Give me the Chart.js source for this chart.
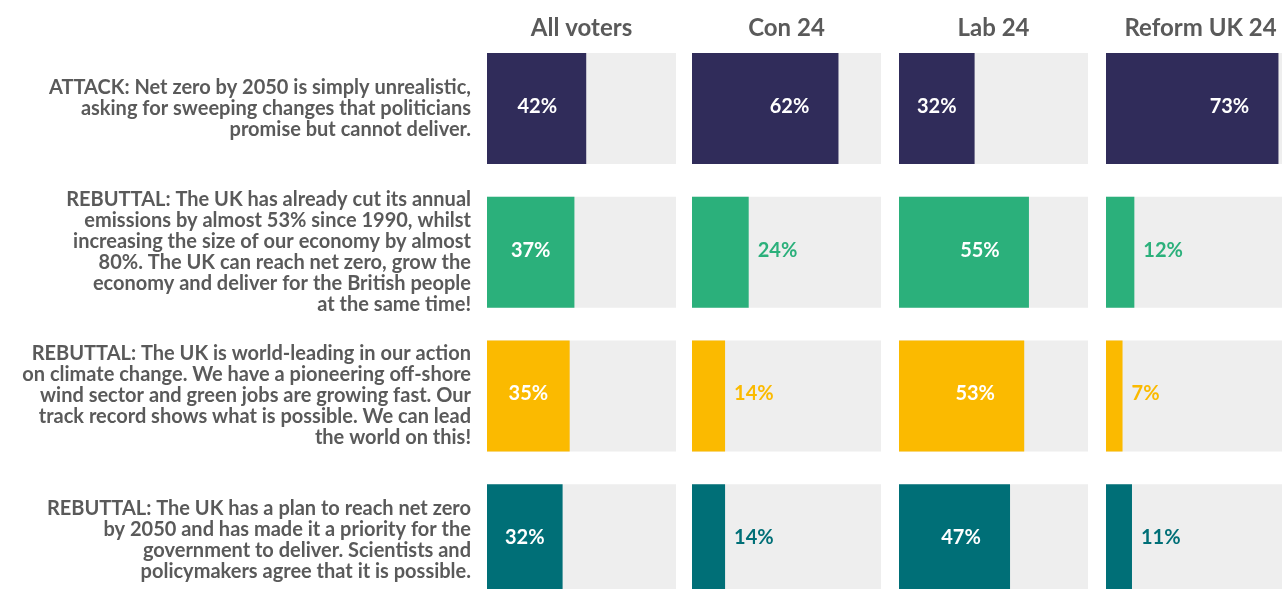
<!DOCTYPE html>
<html>
<head>
<meta charset="utf-8">
<script src="https://cdn.jsdelivr.net/npm/chart.js@4.4.1/dist/chart.umd.min.js"></script>
<style>
  html, body { margin: 0; padding: 0; background: #fff; overflow: hidden; width: 1282px; height: 589px; }
  .panel { position: absolute; top: 0; }
</style>
</head>
<body>
<canvas id="c0" class="panel" style="left:0px" width="676" height="620"></canvas>
<canvas id="c1" class="panel" style="left:692px" width="189" height="620"></canvas>
<canvas id="c2" class="panel" style="left:899px" width="189" height="620"></canvas>
<canvas id="c3" class="panel" style="left:1106px" width="189" height="620"></canvas>
<script>
// statements tested, one row each
const statements = [
  ['ATTACK: Net zero by 2050 is simply unrealistic,', 'asking for sweeping changes that politicians', 'promise but cannot deliver.'],
  ['REBUTTAL: The UK has already cut its annual', 'emissions by almost 53% since 1990, whilst', 'increasing the size of our economy by almost', '80%. The UK can reach net zero, grow the', 'economy and deliver for the British people', 'at the same time!'],
  ['REBUTTAL: The UK is world-leading in our action', 'on climate change. We have a pioneering off-shore', 'wind sector and green jobs are growing fast. Our', 'track record shows what is possible. We can lead', 'the world on this!'],
  ['REBUTTAL: The UK has a plan to reach net zero', 'by 2050 and has made it a priority for the', 'government to deliver. Scientists and', 'policymakers agree that it is possible.']
];

const groups = ['All voters', 'Con 24', 'Lab 24', 'Reform UK 24'];

// % agreeing, per group, in statement order
const allVoters = [42, 37, 35, 32];
const con24 = [62, 24, 14, 14];
const lab24 = [32, 55, 53, 47];
const reform24 = [73, 12, 7, 11];

const scaleMax = 80;

const rowColors = ['#302c5a', '#2bb07b', '#fbba00', '#006f77'];
const trackColor = '#eeeeee';
const textGrey = '#5a5a5a';
const FONT = 'Lato, "Open Sans", sans-serif';

// writes the % on each bar: inside (white) when it fits, otherwise just after the bar
const valueLabels = {
  id: 'valueLabels',
  afterDatasetsDraw(chart) {
    const ctx = chart.ctx;
    const vals = chart.data.datasets[0].data;
    const meta = chart.getDatasetMeta(0);
    ctx.save();
    ctx.font = 'bold 20px ' + FONT;
    ctx.textBaseline = 'middle';
    meta.data.forEach((bar, i) => {
      const start = bar.base, end = bar.x;
      const w = end - start;
      const txt = vals[i] + '%';
      if (w > 60) {
        ctx.fillStyle = '#ffffff';
        ctx.textAlign = 'center';
        ctx.fillText(txt, end - Math.min(w / 2, 49), bar.y - 2);
      } else {
        ctx.fillStyle = rowColors[i];
        ctx.textAlign = 'left';
        ctx.fillText(txt, end + 9, bar.y - 2);
      }
    });
    ctx.restore();
  }
};

function makePanel(id, title, values, withLabels) {
  new Chart(document.getElementById(id), {
    type: 'bar',
    data: {
      labels: statements,
      datasets: [
        { data: values, backgroundColor: rowColors, grouped: false, order: 0 },
        { data: values.map(() => scaleMax), backgroundColor: trackColor, grouped: false, order: 1 }
      ]
    },
    options: {
      indexAxis: 'y',
      responsive: false,
      animation: false,
      layout: { padding: { top: 0, bottom: 8.4, left: 0, right: 0 } },
      datasets: { bar: { categoryPercentage: 1, barPercentage: 0.7726 } },
      plugins: { legend: { display: false }, tooltip: { enabled: false } },
      scales: {
        x: {
          position: 'top',
          min: 0,
          max: scaleMax,
          grid: { display: false, drawTicks: false },
          border: { display: false },
          ticks: { display: false },
          title: {
            display: true,
            text: title,
            color: textGrey,
            font: { family: FONT, size: 24, weight: 'bold' },
            padding: { top: 14, bottom: 0 }
          },
          afterFit(scale) { scale.height = 36.67; }
        },
        y: {
          display: withLabels,
          grid: { display: false, drawTicks: false },
          border: { display: false },
          ticks: {
            color: textGrey,
            padding: 16,
            font: { family: FONT, size: 20, weight: 'bold', lineHeight: '21px' }
          },
          afterFit(scale) {
            if (withLabels) scale.width = 487;
            // long statements sit inside their rows, no extra room needed above/below
            scale.paddingTop = 0;
            scale.paddingBottom = 0;
          }
        }
      }
    },
    plugins: [valueLabels]
  });
}

makePanel('c0', groups[0], allVoters, true);
makePanel('c1', groups[1], con24, false);
makePanel('c2', groups[2], lab24, false);
makePanel('c3', groups[3], reform24, false);
</script>
</body>
</html>
